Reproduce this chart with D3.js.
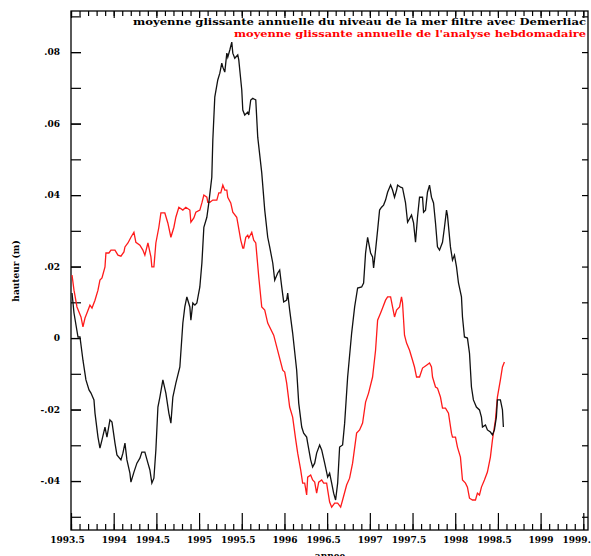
<!DOCTYPE html>
<html>
<head>
<meta charset="utf-8">
<script src="https://cdn.jsdelivr.net/npm/d3@7"></script>
<style>
  body { margin: 0; background: #fff; }
  svg text { font-family: "DejaVu Serif", serif; font-weight: bold; }
</style>
</head>
<body>
<svg id="chart" width="591" height="556"></svg>
<script>
// black: niveau de la mer filtre avec Demerliac (moyenne glissante annuelle)
var blackYears = [1993.512, 1993.535, 1993.582, 1993.605, 1993.640, 1993.675, 1993.711, 1993.734, 1993.769, 1993.781,
  1993.816, 1993.839, 1993.863, 1993.898, 1993.921, 1993.956, 1993.980, 1994.015, 1994.038, 1994.085,
  1994.108, 1994.132, 1994.155, 1994.190, 1994.202, 1994.237, 1994.272, 1994.307, 1994.330, 1994.365,
  1994.401, 1994.424, 1994.447, 1994.471, 1994.494, 1994.518, 1994.541, 1994.576, 1994.611, 1994.646,
  1994.670, 1994.693, 1994.728, 1994.775, 1994.810, 1994.833, 1994.857, 1994.892, 1994.904, 1994.927,
  1994.951, 1994.974, 1995.009, 1995.033, 1995.056, 1995.091, 1995.114, 1995.149, 1995.161, 1995.184,
  1995.219, 1995.243, 1995.266, 1995.278, 1995.301, 1995.325, 1995.336, 1995.360, 1995.383, 1995.395,
  1995.418, 1995.453, 1995.465, 1995.500, 1995.512, 1995.535, 1995.570, 1995.582, 1995.605, 1995.629,
  1995.664, 1995.687, 1995.734, 1995.769, 1995.804, 1995.827, 1995.863, 1995.886, 1995.921, 1995.944,
  1995.968, 1995.991, 1996.026, 1996.038, 1996.061, 1996.096, 1996.143, 1996.167, 1996.202, 1996.225,
  1996.260, 1996.272, 1996.307, 1996.330, 1996.354, 1996.377, 1996.412, 1996.436, 1996.471, 1996.506,
  1996.529, 1996.553, 1996.576, 1996.599, 1996.623, 1996.646, 1996.681, 1996.705, 1996.740, 1996.787,
  1996.822, 1996.857, 1996.904, 1996.927, 1996.950, 1996.974, 1997.009, 1997.032, 1997.044, 1997.067,
  1997.091, 1997.114, 1997.137, 1997.161, 1997.184, 1997.208, 1997.243, 1997.266, 1997.289, 1997.313,
  1997.325, 1997.360, 1997.383, 1997.418, 1997.442, 1997.488, 1997.512, 1997.535, 1997.558, 1997.582,
  1997.617, 1997.629, 1997.652, 1997.675, 1997.699, 1997.722, 1997.746, 1997.769, 1997.792, 1997.816,
  1997.851, 1997.874, 1997.898, 1997.909, 1997.944, 1997.968, 1997.991, 1998.015, 1998.038, 1998.073,
  1998.085, 1998.108, 1998.143, 1998.167, 1998.190, 1998.213, 1998.248, 1998.284, 1998.307, 1998.319,
  1998.354, 1998.377, 1998.412, 1998.436, 1998.459, 1998.482, 1998.494, 1998.529, 1998.553, 1998.564];
var blackHeights = [0.0126, 0.0070, 0.0003, 0.0003, -0.0062, -0.0117, -0.0145, -0.0154, -0.0173, -0.0210,
  -0.0277, -0.0308, -0.0285, -0.0249, -0.0277, -0.0229, -0.0235, -0.0294, -0.0327, -0.0341,
  -0.0322, -0.0294, -0.0341, -0.0378, -0.0403, -0.0375, -0.0350, -0.0336, -0.0319, -0.0319,
  -0.0350, -0.0369, -0.0406, -0.0392, -0.0313, -0.0193, -0.0165, -0.0117, -0.0154, -0.0210,
  -0.0238, -0.0165, -0.0126, -0.0081, 0.0042, 0.0087, 0.0115, 0.0087, 0.0050, 0.0098,
  0.0092, 0.0098, 0.0143, 0.0210, 0.0310, 0.0338, 0.0378, 0.0450, 0.0554, 0.0674,
  0.0722, 0.0741, 0.0769, 0.0758, 0.0744, 0.0797, 0.0786, 0.0806, 0.0828, 0.0797,
  0.0783, 0.0792, 0.0778, 0.0694, 0.0638, 0.0624, 0.0632, 0.0624, 0.0666, 0.0671,
  0.0666, 0.0562, 0.0462, 0.0358, 0.0282, 0.0255, 0.0210, 0.0162, 0.0182, 0.0190,
  0.0143, 0.0101, 0.0106, 0.0126, 0.0078, 0.0014, -0.0090, -0.0182, -0.0249, -0.0266,
  -0.0277, -0.0294, -0.0341, -0.0361, -0.0350, -0.0322, -0.0299, -0.0313, -0.0350, -0.0389,
  -0.0378, -0.0406, -0.0434, -0.0453, -0.0406, -0.0305, -0.0299, -0.0238, -0.0109, 0.0014,
  0.0087, 0.0140, 0.0143, 0.0154, 0.0238, 0.0282, 0.0238, 0.0227, 0.0196, 0.0246,
  0.0302, 0.0358, 0.0366, 0.0372, 0.0386, 0.0408, 0.0428, 0.0414, 0.0394, 0.0414,
  0.0428, 0.0422, 0.0420, 0.0378, 0.0324, 0.0344, 0.0322, 0.0268, 0.0338, 0.0394,
  0.0394, 0.0352, 0.0358, 0.0408, 0.0428, 0.0394, 0.0378, 0.0322, 0.0255, 0.0246,
  0.0268, 0.0310, 0.0358, 0.0344, 0.0255, 0.0218, 0.0232, 0.0199, 0.0154, 0.0115,
  0.0059, 0.0003, 0.0000, -0.0042, -0.0137, -0.0173, -0.0193, -0.0201, -0.0221, -0.0249,
  -0.0243, -0.0257, -0.0263, -0.0271, -0.0257, -0.0221, -0.0173, -0.0173, -0.0201, -0.0249];

// red: analyse hebdomadaire (moyenne glissante annuelle)
var redYears = [1993.512, 1993.535, 1993.570, 1993.617, 1993.640, 1993.664, 1993.687, 1993.722, 1993.746, 1993.781,
  1993.816, 1993.839, 1993.863, 1993.898, 1993.909, 1993.944, 1993.968, 1994.015, 1994.050, 1994.085,
  1994.120, 1994.132, 1994.167, 1994.202, 1994.237, 1994.260, 1994.307, 1994.342, 1994.365, 1994.401,
  1994.436, 1994.447, 1994.471, 1994.494, 1994.529, 1994.553, 1994.599, 1994.634, 1994.670, 1994.705,
  1994.728, 1994.763, 1994.810, 1994.845, 1994.892, 1994.904, 1994.939, 1994.962, 1995.009, 1995.033,
  1995.056, 1995.091, 1995.102, 1995.126, 1995.161, 1995.208, 1995.231, 1995.254, 1995.278, 1995.301,
  1995.325, 1995.336, 1995.371, 1995.395, 1995.441, 1995.453, 1995.488, 1995.512, 1995.523, 1995.547,
  1995.570, 1995.582, 1995.617, 1995.640, 1995.664, 1995.699, 1995.734, 1995.769, 1995.804, 1995.874,
  1995.980, 1996.003, 1996.026, 1996.061, 1996.096, 1996.132, 1996.155, 1996.190, 1996.213, 1996.237,
  1996.260, 1996.272, 1996.307, 1996.330, 1996.354, 1996.377, 1996.401, 1996.436, 1996.459, 1996.494,
  1996.506, 1996.529, 1996.553, 1996.588, 1996.623, 1996.658, 1996.681, 1996.728, 1996.763, 1996.798,
  1996.845, 1996.880, 1996.915, 1996.950, 1996.985, 1997.032, 1997.067, 1997.091, 1997.126, 1997.149,
  1997.184, 1997.208, 1997.243, 1997.266, 1997.289, 1997.313, 1997.348, 1997.371, 1997.383, 1997.406,
  1997.430, 1997.465, 1997.500, 1997.523, 1997.547, 1997.582, 1997.617, 1997.664, 1997.699, 1997.722,
  1997.734, 1997.769, 1997.792, 1997.827, 1997.851, 1997.886, 1997.921, 1997.956, 1997.968, 1998.003,
  1998.026, 1998.061, 1998.085, 1998.120, 1998.143, 1998.167, 1998.202, 1998.237, 1998.260, 1998.284,
  1998.307, 1998.342, 1998.377, 1998.412, 1998.436, 1998.471, 1998.494, 1998.529, 1998.553, 1998.576];
var redHeights = [0.0176, 0.0134, 0.0087, 0.0059, 0.0031, 0.0056, 0.0070, 0.0092, 0.0084, 0.0106,
  0.0134, 0.0162, 0.0168, 0.0199, 0.0238, 0.0238, 0.0246, 0.0246, 0.0232, 0.0229,
  0.0241, 0.0255, 0.0266, 0.0282, 0.0296, 0.0268, 0.0260, 0.0246, 0.0232, 0.0266,
  0.0227, 0.0199, 0.0199, 0.0266, 0.0310, 0.0350, 0.0350, 0.0322, 0.0282, 0.0310,
  0.0338, 0.0366, 0.0358, 0.0366, 0.0358, 0.0324, 0.0336, 0.0352, 0.0358, 0.0378,
  0.0400, 0.0394, 0.0380, 0.0380, 0.0386, 0.0386, 0.0406, 0.0406, 0.0428, 0.0414,
  0.0414, 0.0394, 0.0378, 0.0352, 0.0338, 0.0322, 0.0274, 0.0252, 0.0252, 0.0282,
  0.0288, 0.0280, 0.0296, 0.0274, 0.0266, 0.0171, 0.0087, 0.0078, 0.0042, 0.0008,
  -0.0090, -0.0095, -0.0126, -0.0193, -0.0221, -0.0285, -0.0322, -0.0369, -0.0406, -0.0406,
  -0.0439, -0.0389, -0.0383, -0.0397, -0.0403, -0.0434, -0.0403, -0.0397, -0.0406, -0.0406,
  -0.0425, -0.0459, -0.0473, -0.0462, -0.0462, -0.0473, -0.0453, -0.0411, -0.0392, -0.0350,
  -0.0266, -0.0257, -0.0238, -0.0179, -0.0154, -0.0109, -0.0034, 0.0050, 0.0070, 0.0084,
  0.0106, 0.0115, 0.0115, 0.0087, 0.0059, 0.0078, 0.0087, 0.0115, 0.0098, 0.0008,
  -0.0014, -0.0034, -0.0062, -0.0081, -0.0109, -0.0109, -0.0084, -0.0076, -0.0070, -0.0081,
  -0.0109, -0.0137, -0.0140, -0.0165, -0.0196, -0.0196, -0.0210, -0.0266, -0.0277, -0.0277,
  -0.0305, -0.0333, -0.0397, -0.0406, -0.0417, -0.0448, -0.0453, -0.0453, -0.0434, -0.0439,
  -0.0417, -0.0397, -0.0375, -0.0333, -0.0285, -0.0229, -0.0165, -0.0117, -0.0081, -0.0067];

var xTickValues = [1993.5, 1994, 1994.5, 1995, 1995.5, 1996, 1996.5, 1997, 1997.5, 1998, 1998.5, 1999, 1999.5];
var xTickLabels = ["1993.5", "1994", "1994.5", "1995", "1995.5", "1996", "1996.5", "1997", "1997.5", "1998", "1998.5", "1999", "1999.5"];
var yTickValues = [-0.04, -0.02, 0, 0.02, 0.04, 0.06, 0.08];
var yTickLabels = ["-.04", "-.02", "0", ".02", ".04", ".06", ".08"];

var titleBlack = "moyenne glissante annuelle du niveau de la mer filtre avec Demerliac";
var titleRed = "moyenne glissante annuelle de l'analyse hebdomadaire";

function drawChart() {
    var svg = d3.select("#chart");
    var plotLeft = 71, plotRight = 588, plotTop = 11, plotBottom = 530;

    var x = d3.scaleLinear().domain([1993.5, 1999.555]).range([plotLeft, plotRight]);
    var y = d3.scaleLinear().domain([-0.0537, 0.0915]).range([plotBottom, plotTop]);

    var minorX = d3.range(1993.5, 1999.56, 0.1).map(function(d) { return Math.round(d * 10) / 10; });
    var minorY = d3.range(-5, 10).map(function(d) { return d / 100; });

    // bottom axis, ticks pointing inward
    svg.append("g")
        .attr("transform", "translate(0," + plotBottom + ")")
        .call(d3.axisBottom(x).tickValues(minorX).tickSize(-6).tickFormat(""))
        .call(function(g) { g.select(".domain").remove(); });
    var xAxis = svg.append("g")
        .attr("transform", "translate(0," + plotBottom + ")")
        .call(d3.axisBottom(x).tickValues(xTickValues).tickSize(-17).tickPadding(7)
            .tickFormat(function(d, i) { return xTickLabels[i]; }));
    xAxis.select(".domain").remove();
    xAxis.selectAll("text")
        .attr("dx", function(d, i) { return xTickLabels[i].indexOf(".") > 0 ? -4 : 0; })
        .style("font-size", "9px").style("fill", "#000");

    // top axis
    svg.append("g")
        .attr("transform", "translate(0," + plotTop + ")")
        .call(d3.axisTop(x).tickValues(minorX).tickSize(-5).tickFormat(""))
        .call(function(g) { g.select(".domain").remove(); });
    svg.append("g")
        .attr("transform", "translate(0," + plotTop + ")")
        .call(d3.axisTop(x).tickValues(xTickValues).tickSize(-7).tickFormat(""))
        .call(function(g) { g.select(".domain").remove(); });

    // left axis
    svg.append("g")
        .attr("transform", "translate(" + plotLeft + ",0)")
        .call(d3.axisLeft(y).tickValues(minorY).tickSize(-10).tickFormat(""))
        .call(function(g) { g.select(".domain").remove(); });
    var yAxis = svg.append("g")
        .attr("transform", "translate(" + plotLeft + ",0)")
        .call(d3.axisLeft(y).tickValues(yTickValues).tickSize(-10).tickPadding(11)
            .tickFormat(function(d, i) { return yTickLabels[i]; }));
    yAxis.select(".domain").remove();
    yAxis.selectAll("text").style("font-size", "9px").style("fill", "#000");

    // right axis
    svg.append("g")
        .attr("transform", "translate(" + plotRight + ",0)")
        .call(d3.axisRight(y).tickValues(minorY).tickSize(-6).tickFormat(""))
        .call(function(g) { g.select(".domain").remove(); });

    svg.selectAll(".tick line").attr("stroke", "#000").attr("stroke-width", 1.2);

    // frame
    svg.append("rect")
        .attr("x", plotLeft).attr("y", plotTop)
        .attr("width", plotRight - plotLeft).attr("height", plotBottom - plotTop)
        .attr("fill", "none").attr("stroke", "#000").attr("stroke-width", 1.3);

    var line = d3.line()
        .x(function(d) { return x(d[0]); })
        .y(function(d) { return y(d[1]); });

    svg.append("path")
        .datum(d3.zip(redYears, redHeights))
        .attr("d", line)
        .attr("fill", "none").attr("stroke", "#ff1a1a").attr("stroke-width", 1.3);
    svg.append("path")
        .datum(d3.zip(blackYears, blackHeights))
        .attr("d", line)
        .attr("fill", "none").attr("stroke", "#111").attr("stroke-width", 1.3);

    // titles
    svg.append("text")
        .attr("x", 586).attr("y", 25)
        .attr("text-anchor", "end")
        .attr("textLength", 453).attr("lengthAdjust", "spacingAndGlyphs")
        .style("font-size", "10px").style("fill", "#000")
        .text(titleBlack);
    svg.append("text")
        .attr("x", 586).attr("y", 37)
        .attr("text-anchor", "end")
        .attr("textLength", 352).attr("lengthAdjust", "spacingAndGlyphs")
        .style("font-size", "10px").style("fill", "#ff0000")
        .text(titleRed);

    // axis titles
    svg.append("text")
        .attr("transform", "translate(19,271) rotate(-90)")
        .attr("text-anchor", "middle")
        .style("font-size", "9px").style("fill", "#000")
        .text("hauteur (m)");
    svg.append("text")
        .attr("x", 330).attr("y", 559)
        .attr("text-anchor", "middle")
        .style("font-size", "9px").style("fill", "#000")
        .text("annee");
}

drawChart();
</script>
</body>
</html>
